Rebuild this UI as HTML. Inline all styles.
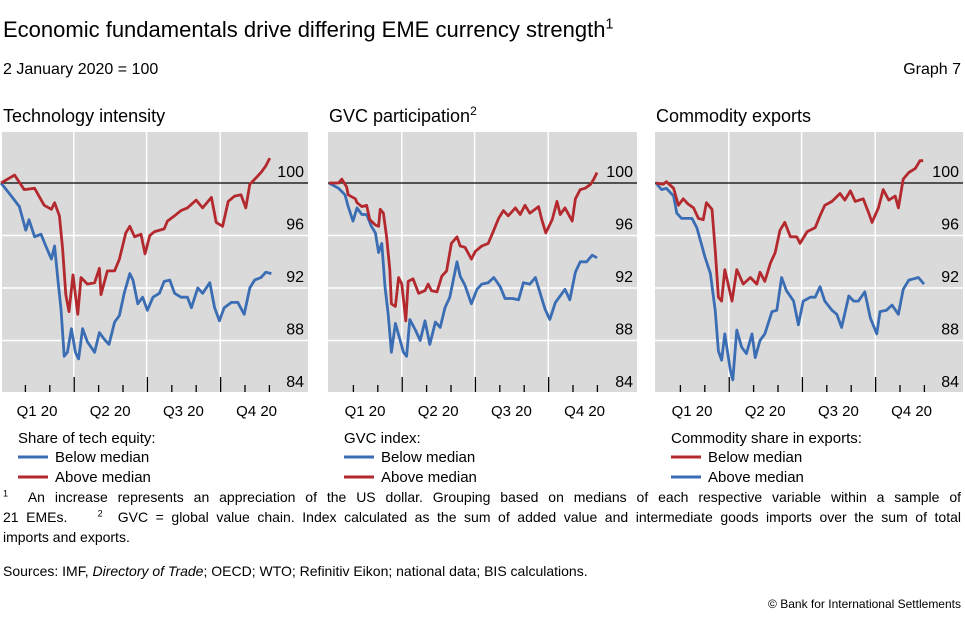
<!DOCTYPE html>
<html><head><meta charset="utf-8">
<style>
body{margin:0;background:#fff;font-family:"Liberation Sans",sans-serif;color:#000}
#wrap{position:relative;width:965px;height:620px;overflow:hidden}
.t{position:absolute;white-space:nowrap}
#foot{position:absolute;left:3px;top:487px;width:958px;font-size:14px;line-height:20px}
#foot .j{text-align:justify;text-align-last:justify;white-space:nowrap}
sup{font-size:65%;line-height:0}
</style></head><body>
<div id="wrap">
<div class="t" style="left:3px;top:17px;font-size:22px">Economic fundamentals drive differing EME currency strength<sup>1</sup></div>
<div class="t" style="left:3px;top:61px;font-size:16px">2 January 2020 = 100</div>
<div class="t" style="right:4px;top:61px;font-size:16px">Graph 7</div>
<svg id="svg" width="965" height="490" style="position:absolute;left:0;top:0"></svg>
<div id="foot"><div class="j"><sup>1</sup>&nbsp;&nbsp;An increase represents an appreciation of the US dollar. Grouping based on medians of each respective variable within a sample of</div><div class="j">21 EMEs.&nbsp;&nbsp;&nbsp;&nbsp;<sup>2</sup>&nbsp;&nbsp;GVC = global value chain. Index calculated as the sum of added value and intermediate goods imports over the sum of total</div><div>imports and exports.</div></div>
<div class="t" style="left:3px;top:563px;font-size:14px">Sources: IMF, <i>Directory of Trade</i>; OECD; WTO; Refinitiv Eikon; national data; BIS calculations.</div>
<div class="t" style="right:4px;top:597px;font-size:12px">© Bank for International Settlements</div>
</div>
<script>
const yTicks=[84,88,92,96,100];
const quarterLabels=["Q1 20","Q2 20","Q3 20","Q4 20"];
const panelTitles=["Technology intensity","GVC participation","Commodity exports"];
const legendTitles=["Share of tech equity:","GVC index:","Commodity share in exports:"];
// panel 1
const p1RedDays=[0,17,29,42,54,63,67,73,77,81,85,90,96,100,108,117,123,125,133,142,148,156,161,167,175,180,186,192,204,208,217,225,233,244,252,263,269,277,284,292,300,306,311,319,325,331,336];
const p1RedVals=[100,100.6,99.5,99.6,98.3,98,98.5,97.5,95,91.5,90.2,93,90,92.8,92.3,92.4,93.5,91.5,93.3,93.3,94.2,96.2,96.7,95.9,96.1,94.6,96,96.3,96.5,97.1,97.5,97.9,98.1,98.7,98.1,98.9,97,96.7,98.6,99,99.1,98.1,99.9,100.4,100.8,101.3,101.9];
const p1BlueDays=[0,13,23,31,35,42,50,56,63,67,71,75,79,83,88,93,97,102,108,117,123,129,135,142,148,154,161,165,171,177,183,190,198,204,211,217,225,233,238,246,252,261,267,273,279,288,296,304,311,317,325,331,338];
const p1BlueVals=[100,99,98.2,96.4,97.2,95.9,96.1,95.2,94.2,95.2,92.7,90.4,86.8,87.1,88.9,87.1,86.6,88.9,87.9,87.1,88.6,88.1,87.7,89.4,89.9,91.6,93.1,92.6,90.8,91.3,90.3,91.3,91.6,92.5,92.6,91.6,91.3,91.3,90.5,92,91.6,92.4,90.5,89.5,90.5,90.9,90.9,90,92,92.6,92.8,93.2,93.1];
// panel 2
const p2RedDays=[0,12,16,22,24,33,35,41,47,51,58,62,64,68,72,76,78,83,87,91,96,99,105,112,120,124,128,135,141,147,153,160,164,170,178,183,191,199,206,212,218,224,233,239,245,251,262,266,271,279,285,289,295,304,308,314,320,327,331,335];
const p2RedVals=[100,100,100.3,99.7,99.1,98.8,98.5,98.2,98.3,97.2,96.8,96.7,98,97.7,95.9,93.4,90.8,90.6,92.8,92.3,89.5,92.5,92.7,91.6,91.8,92.3,91.8,91.7,92.9,93.3,95.4,95.9,95.2,95.1,94.2,94.8,95.2,95.4,96.4,97.3,97.9,97.5,98.1,97.6,98.3,97.7,98.2,97.2,96.2,97.2,98.6,97.6,98.1,97.1,98.8,99.5,99.6,99.9,100.3,100.8];
const p2BlueDays=[0,12,20,24,30,35,41,47,53,58,62,66,70,74,78,83,89,93,97,101,108,114,120,126,133,139,145,151,160,164,170,178,185,191,199,206,214,220,229,237,243,251,258,264,270,276,283,289,295,301,308,314,322,329,335];
const p2BlueVals=[100,99.6,99.1,98.2,97.1,98.1,97.6,97.6,96.7,96.2,94.7,95.4,92.1,90,87.1,89.3,88,87.1,86.8,89.6,88.8,88,89.5,87.7,89.4,89,90.5,91.3,94,92.9,92.2,90.8,91.9,92.3,92.4,92.8,92.1,91.2,91.2,91.1,92.4,92.3,92.8,91.6,90.4,89.6,90.9,91.4,91.9,91.1,93.2,94,94,94.5,94.3];
// panel 3
const p3RedDays=[0,9,13,22,28,34,40,47,53,59,63,70,74,78,82,86,95,101,109,118,126,130,136,143,149,155,161,168,176,180,189,199,205,211,220,230,236,243,249,259,266,270,278,284,291,299,303,309,316,324,330,334];
const p3RedVals=[100,99.9,100.1,99.6,98.3,98.8,98.4,98.1,97.3,97.2,98.5,98,94.9,91.3,91,93.4,91,93.4,92.3,92.8,92.3,93.2,92.5,93.9,94.7,96.4,97,95.9,95.9,95.4,96.3,96.6,97.5,98.3,98.6,99.2,98.7,99.4,98.6,98.8,97.7,97,98.1,99.5,98.7,99,98.1,100.3,100.8,101.1,101.7,101.7];
const p3BlueDays=[0,7,13,22,26,32,38,45,51,57,61,68,74,78,82,86,93,96,101,107,113,120,124,130,136,145,151,157,163,172,178,184,193,199,205,211,220,226,232,241,247,253,261,268,276,280,288,295,303,309,316,322,328,335];
const p3BlueVals=[100,99.5,99.6,99,97.7,97.3,97.3,97.3,96.6,95.3,94.4,93.1,90.3,87.2,86.5,88.5,85.7,85,88.8,87.5,87,88.5,86.7,88,88.5,90.2,90.3,92.8,91.8,91,89.2,91,91.3,91.3,92.1,91,90.3,90,89,91.4,91,91,91.7,89.7,88.5,90.2,90.3,90.7,90,91.9,92.6,92.7,92.8,92.3];

const RED="#b3292e",BLUE="#3a6db3";
const panels=[
 {x0:1,gl:2,gr:308,red:[p1RedDays,p1RedVals],blue:[p1BlueDays,p1BlueVals],legend:[["Below median",BLUE],["Above median",RED]]},
 {x0:329,gl:328,gr:637,red:[p2RedDays,p2RedVals],blue:[p2BlueDays,p2BlueVals],legend:[["Below median",BLUE],["Above median",RED]]},
 {x0:656,gl:655,gr:963,red:[p3RedDays,p3RedVals],blue:[p3BlueDays,p3BlueVals],legend:[["Below median",RED],["Above median",BLUE]]}
];
const NS="http://www.w3.org/2000/svg";
const svg=document.getElementById('svg');
function mk(tag,attrs,parent){const e=document.createElementNS(NS,tag);for(const k in attrs)e.setAttribute(k,attrs[k]);(parent||svg).appendChild(e);return e;}
const yTop=132,yBot=392;
const yScale=v=>183-(v-100)*13.125;
panels.forEach((p,i)=>{
 const xScale=d=>p.x0+d*0.8;
 const g=mk('g',{});
 
 
 const bg=mk('rect',{x:p.gl,y:yTop,width:p.gr-p.gl,height:yBot-yTop,fill:'#dadada'},g);
 
 
 yTicks.forEach(v=>{
  if(v!==100&&v!==84){const l=mk('line',{x1:p.gl,x2:p.gr,y1:yScale(v),y2:yScale(v),stroke:'#fff','stroke-width':1.5},g);
  
  }
  const t=mk('text',{x:p.gr-4,y:yScale(v)-6,'text-anchor':'end','font-size':16,fill:'#000'},g);
  t.textContent=v;
  
  
 });
 [91,182,274].forEach(d=>{const l=mk('line',{x1:xScale(d),x2:xScale(d),y1:yTop,y2:yBot,stroke:'#fff','stroke-width':1.5},g);
  
  });
 for(let m=1;m<=11;m++){const d=m*30.5;const major=m%3===0;
  const l=mk('line',{x1:xScale(d),x2:xScale(d),y1:major?377:385,y2:yBot,stroke:'#000','stroke-width':1.3},g);
  
  }
 quarterLabels.forEach((q,k)=>{const t=mk('text',{x:xScale(k*91.5+45),y:416,'text-anchor':'middle','font-size':15},g);
  t.textContent=q;
  
  });
 const base=mk('line',{x1:p.gl,x2:p.gr,y1:yScale(100),y2:yScale(100),stroke:'#000','stroke-width':1.2},g);
 
 
 [['blue',p.blue,BLUE],['red',p.red,RED]].forEach(([nm,s,c])=>{
  const d=s[0].map((dd,j)=>(j?'L':'M')+xScale(dd).toFixed(1)+','+yScale(s[1][j]).toFixed(1)).join('');
  const path=mk('path',{d:d,fill:'none',stroke:c,'stroke-width':2.8,'stroke-linejoin':'round'},g);
  
  
 });
 const tt=mk('text',{x:p.gl+1,y:122,'font-size':18},g);
 tt.textContent=panelTitles[i];
 
 
 if(i===1){const s=mk('tspan',{dy:-7,'font-size':12},tt);s.textContent='2';}
 const lt=mk('text',{x:p.gl+16,y:443,'font-size':15},g);
 lt.textContent=legendTitles[i];
 
 
 p.legend.forEach(([lab,c],k)=>{
  const y=457+k*20;
  const ll=mk('line',{x1:p.gl+16,x2:p.gl+46,y1:y,y2:y,stroke:c,'stroke-width':3},g);
  
  
  const t=mk('text',{x:p.gl+53,y:y+5,'font-size':15},g);
  t.textContent=lab;
  
  
 });
});
</script>
</body></html>
